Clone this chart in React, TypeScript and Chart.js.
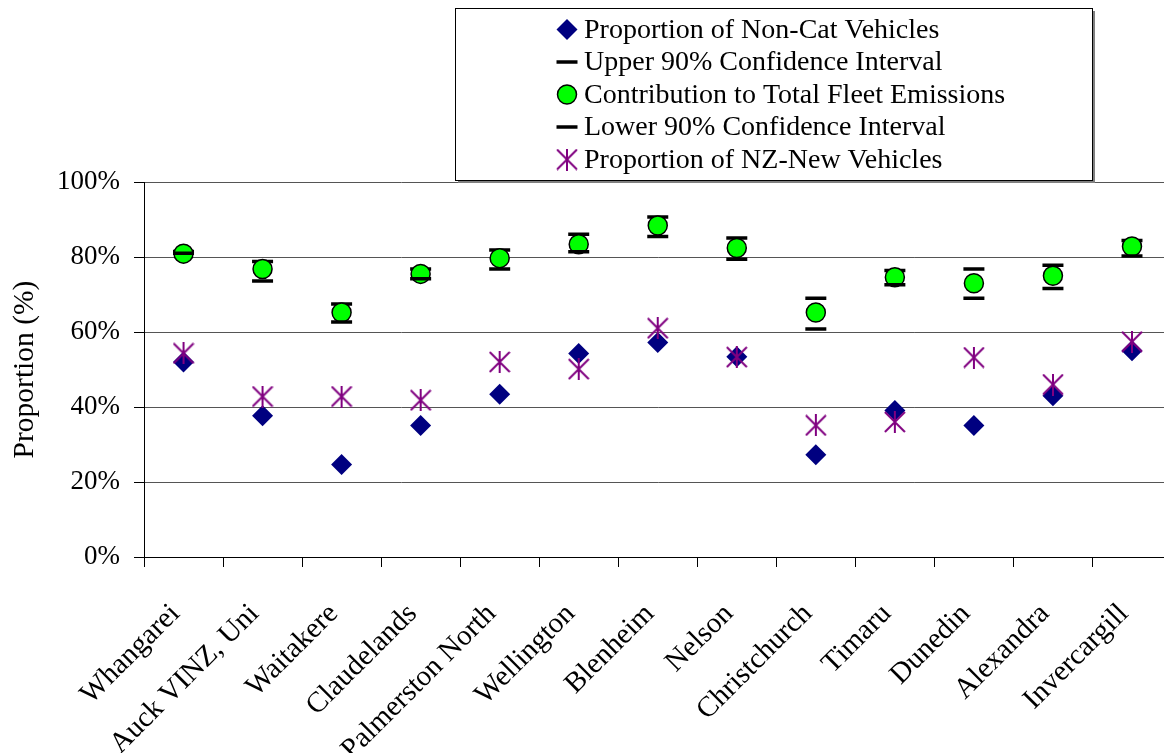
import React, { useEffect, useRef } from 'react';
import { Chart, registerables } from 'chart.js';
Chart.register(...registerables);

const categories = ['Whangarei', 'Auck VINZ, Uni', 'Waitakere', 'Claudelands', 'Palmerston North', 'Wellington', 'Blenheim', 'Nelson', 'Christchurch', 'Timaru', 'Dunedin', 'Alexandra', 'Invercargill'];
const nonCat = [52.0, 37.7, 24.7, 35.1, 43.4, 54.3, 57.2, 53.4, 27.3, 39.1, 35.1, 43.0, 55.0];
const upperCI = [81.5, 78.8, 67.5, 76.8, 81.9, 86.1, 90.7, 85.1, 69.0, 76.4, 76.8, 77.8, 84.4];
const contribution = [80.9, 76.8, 65.2, 75.5, 79.7, 83.4, 88.4, 82.4, 65.2, 74.6, 73.0, 75.0, 82.8];
const lowerCI = [81.0, 73.6, 62.7, 74.2, 76.8, 81.4, 85.5, 79.4, 60.8, 72.6, 69.0, 71.6, 80.3];
const nzNew = [54.3, 42.8, 42.8, 41.8, 52.0, 50.1, 61.0, 53.3, 35.1, 36.0, 53.2, 46.0, 57.4];
const seriesLabels = ['Proportion of Non-Cat Vehicles', 'Upper 90% Confidence Interval', 'Contribution to Total Fleet Emissions', 'Lower 90% Confidence Interval', 'Proportion of NZ-New Vehicles'];
const yMin = 0;
const yMax = 100;
const yStep = 20;
const yTitle = 'Proportion (%)';

const FONT = "'Liberation Serif', 'Times New Roman', serif";
const NAVY = '#000080';
const GREEN = '#00ff00';
const PURPLE = '#800080';

function makeStar(): HTMLCanvasElement {
  const c = document.createElement('canvas');
  c.width = 22;
  c.height = 22;
  const g = c.getContext('2d')!;
  g.strokeStyle = PURPLE;
  g.lineWidth = 2;
  g.beginPath();
  g.moveTo(1, 1); g.lineTo(21, 21);
  g.moveTo(21, 1); g.lineTo(1, 21);
  g.moveTo(11, 0); g.lineTo(11, 22);
  g.stroke();
  return c;
}

export default function App() {
  const ref = useRef<HTMLCanvasElement>(null);
  useEffect(() => {
    if (!ref.current) return;
    const star = makeStar();

    const legendPlugin = {
      id: 'boxLegend',
      afterDraw(chart: any) {
        const ctx: CanvasRenderingContext2D = chart.ctx;
        const x0 = 455, y0 = 8, w = 637, h = 172;
        ctx.save();
        ctx.fillStyle = '#808080';
        ctx.fillRect(x0 + 3, y0 + 3, w, h);
        ctx.fillStyle = '#ffffff';
        ctx.fillRect(x0, y0, w, h);
        ctx.strokeStyle = '#000';
        ctx.lineWidth = 1;
        ctx.strokeRect(x0 + 0.5, y0 + 0.5, w, h);
        const mx = 567;
        const tx = 584;
        const rowY = (i: number) => 29.5 + i * 32.5;
        ctx.font = `28px ${FONT}`;
        ctx.textBaseline = 'middle';
        ctx.textAlign = 'left';
        seriesLabels.forEach((lab, i) => {
          const y = rowY(i);
          if (i === 0) {
            ctx.fillStyle = NAVY;
            ctx.beginPath();
            ctx.moveTo(mx, y - 10.5); ctx.lineTo(mx + 10.5, y); ctx.lineTo(mx, y + 10.5); ctx.lineTo(mx - 10.5, y);
            ctx.closePath();
            ctx.fill();
          } else if (i === 1 || i === 3) {
            ctx.strokeStyle = '#000';
            ctx.lineWidth = 3.5;
            ctx.beginPath();
            ctx.moveTo(mx - 10.5, y); ctx.lineTo(mx + 10.5, y);
            ctx.stroke();
          } else if (i === 2) {
            ctx.fillStyle = GREEN;
            ctx.strokeStyle = '#000';
            ctx.lineWidth = 1.5;
            ctx.beginPath();
            ctx.arc(mx, y, 9.5, 0, Math.PI * 2);
            ctx.fill();
            ctx.stroke();
          } else {
            ctx.drawImage(star, mx - 11, y - 11);
          }
          ctx.fillStyle = '#000';
          ctx.fillText(lab, tx, y + 1);
        });
        ctx.restore();
      },
    };

    const chart = new Chart(ref.current, {
      type: 'line',
      data: {
        labels: categories,
        datasets: [
          { label: seriesLabels[0], data: nonCat, showLine: false, order: 5, pointStyle: 'rectRot', pointRadius: 10.5, backgroundColor: NAVY, borderColor: NAVY, pointBorderWidth: 0 },
          { label: seriesLabels[1], data: upperCI, showLine: false, order: 4, pointStyle: 'line', pointRadius: 10.5, borderColor: '#000', pointBorderWidth: 3.5 },
          { label: seriesLabels[2], data: contribution, showLine: false, order: 3, pointStyle: 'circle', pointRadius: 9.5, backgroundColor: GREEN, borderColor: '#000', pointBorderWidth: 1.5 },
          { label: seriesLabels[3], data: lowerCI, showLine: false, order: 2, pointStyle: 'line', pointRadius: 10.5, borderColor: '#000', pointBorderWidth: 3.5 },
          { label: seriesLabels[4], data: nzNew, showLine: false, order: 1, pointStyle: star as any, pointRadius: 11, borderColor: PURPLE, backgroundColor: PURPLE },
        ],
      },
      options: {
        animation: false,
        responsive: false,
        events: [],
        layout: { padding: { top: 182, right: 18.5, left: 0, bottom: 0 } },
        plugins: { legend: { display: false }, tooltip: { enabled: false } },
        scales: {
          x: {
            type: 'category',
            offset: true,
            grid: { offset: true, drawOnChartArea: false, drawTicks: true, tickLength: 10, tickColor: '#000' },
            border: { color: '#000', width: 1 },
            ticks: { color: '#000', font: { family: FONT, size: 29 }, minRotation: 45, maxRotation: 45, padding: 30, labelOffset: -8, autoSkip: false },
            afterFit: (s: any) => { s.height = 196; },
          },
          y: {
            min: yMin,
            max: yMax,
            ticks: { stepSize: yStep, color: '#000', font: { family: FONT, size: 27 }, padding: 14, callback: (v: any) => v + '%' },
            grid: { color: '#555', lineWidth: 1, tickLength: 10, tickColor: '#000' },
            border: { color: '#000', width: 1 },
            title: { display: true, text: yTitle, color: '#000', font: { family: FONT, size: 29.5 }, padding: { top: 8, bottom: 0 } },
            afterFit: (s: any) => { s.width = 144; },
          },
        },
      },
      plugins: [legendPlugin],
    });
    return () => chart.destroy();
  }, []);
  return (
    <div style={{ position: 'fixed', left: 0, top: 0, width: 1164, height: 753, overflow: 'hidden', background: '#fff' }}>
      <canvas ref={ref} width={1190} height={753} style={{ display: 'block' }} />
    </div>
  );
}
